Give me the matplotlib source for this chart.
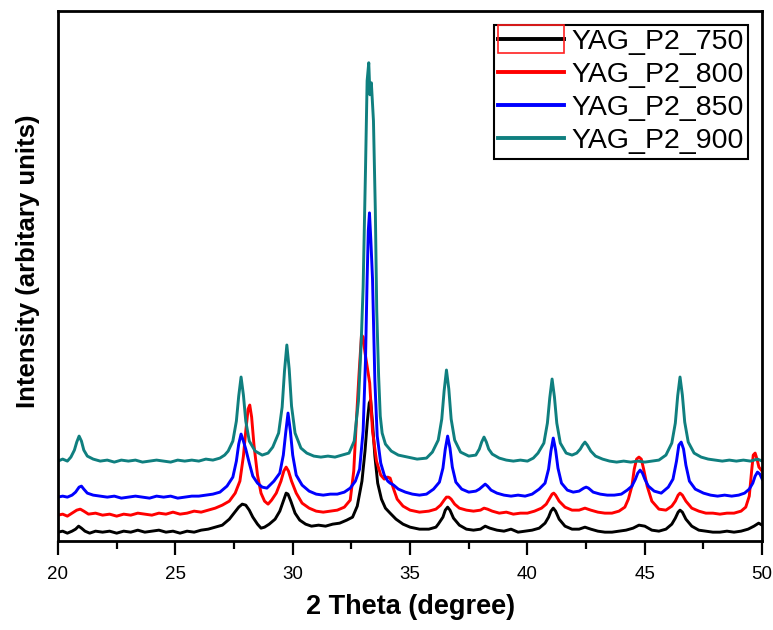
import matplotlib
matplotlib.use('Agg')
import matplotlib.pyplot as plt
from matplotlib.patches import Rectangle
from matplotlib.ticker import MultipleLocator

# XRD patterns: (2 theta in degree, intensity in arbitrary units)
p2_750 = [(20.0, 9), (20.2, 10), (20.4, 8), (20.6, 10), (20.75, 12), (20.88, 15), (21.0, 13), (21.15, 10),
          (21.35, 8), (21.6, 10), (21.9, 9), (22.2, 10), (22.5, 8), (22.8, 10), (23.1, 9), (23.4, 11),
          (23.7, 9), (24.0, 10), (24.3, 11), (24.6, 9), (24.9, 10), (25.2, 8), (25.5, 10), (25.8, 9),
          (26.1, 11), (26.4, 12), (26.7, 14), (27.0, 16), (27.3, 22), (27.5, 28), (27.7, 34), (27.85, 37),
          (28.0, 36), (28.15, 31), (28.3, 24), (28.5, 17), (28.65, 13), (28.8, 14), (29.0, 17), (29.25, 22),
          (29.45, 30), (29.6, 40), (29.72, 48), (29.8, 47), (29.92, 40), (30.1, 28), (30.3, 21), (30.55, 17),
          (30.8, 15), (31.1, 16), (31.4, 15), (31.7, 17), (32.0, 18), (32.3, 21), (32.55, 24), (32.75, 35),
          (32.95, 60), (33.08, 90), (33.18, 120), (33.26, 138), (33.32, 141), (33.4, 118), (33.5, 85),
          (33.62, 58), (33.78, 42), (33.95, 33), (34.15, 28), (34.4, 22), (34.7, 17), (35.0, 14), (35.4, 12),
          (35.8, 12), (36.1, 14), (36.2, 17), (36.4, 24), (36.5, 31), (36.6, 34), (36.7, 31), (36.85, 23),
          (37.1, 16), (37.4, 12), (37.7, 11), (38.0, 12), (38.2, 15), (38.4, 13), (38.7, 11), (39.0, 10),
          (39.3, 12), (39.6, 9), (39.9, 10), (40.2, 11), (40.5, 13), (40.75, 18), (40.9, 24), (41.0, 30),
          (41.1, 33), (41.2, 30), (41.35, 22), (41.6, 15), (41.9, 12), (42.2, 12), (42.45, 14), (42.7, 12),
          (43.0, 10), (43.3, 9), (43.6, 9), (43.9, 10), (44.2, 11), (44.5, 13), (44.75, 16), (45.0, 15),
          (45.3, 11), (45.6, 10), (45.9, 12), (46.15, 17), (46.3, 23), (46.42, 29), (46.5, 31), (46.6, 29),
          (46.75, 22), (47.0, 15), (47.3, 11), (47.6, 10), (47.9, 9), (48.2, 9), (48.5, 10), (48.8, 9),
          (49.1, 10), (49.4, 12), (49.65, 15), (49.85, 18), (50.0, 16)]

p2_800 = [(20.0, 26), (20.2, 27), (20.4, 25), (20.6, 28), (20.8, 31), (20.95, 32), (21.1, 30), (21.3, 27),
          (21.6, 28), (21.9, 26), (22.2, 27), (22.5, 25), (22.8, 27), (23.1, 26), (23.4, 28), (23.7, 27),
          (24.0, 26), (24.3, 28), (24.6, 27), (24.9, 29), (25.2, 27), (25.5, 28), (25.8, 30), (26.1, 29),
          (26.4, 31), (26.7, 33), (27.0, 36), (27.3, 40), (27.55, 48), (27.75, 60), (27.9, 85), (28.0, 110),
          (28.1, 132), (28.17, 136), (28.25, 124), (28.35, 96), (28.5, 66), (28.65, 48), (28.8, 40),
          (28.95, 37), (29.1, 41), (29.3, 48), (29.5, 60), (29.62, 70), (29.72, 74), (29.82, 70), (29.95, 60),
          (30.15, 48), (30.4, 38), (30.7, 33), (31.0, 30), (31.3, 29), (31.6, 30), (31.9, 31), (32.2, 34),
          (32.45, 41), (32.6, 70), (32.7, 115), (32.82, 165), (32.93, 206), (33.0, 204), (33.07, 190),
          (33.17, 175), (33.28, 158), (33.4, 110), (33.57, 80), (33.75, 66), (33.9, 62), (34.05, 64),
          (34.15, 63), (34.3, 52), (34.45, 42), (34.7, 35), (35.0, 31), (35.4, 29), (35.8, 30), (36.1, 32),
          (36.3, 36), (36.45, 41), (36.55, 44), (36.65, 44), (36.75, 42), (36.9, 37), (37.1, 33), (37.4, 31),
          (37.7, 30), (38.0, 31), (38.15, 33), (38.3, 32), (38.5, 30), (38.8, 28), (39.1, 29), (39.4, 27),
          (39.7, 28), (40.0, 28), (40.3, 30), (40.6, 33), (40.8, 37), (40.95, 43), (41.05, 47), (41.12, 48),
          (41.2, 46), (41.35, 40), (41.6, 34), (41.9, 31), (42.2, 31), (42.45, 33), (42.7, 31), (43.0, 29),
          (43.3, 28), (43.6, 28), (43.9, 30), (44.15, 34), (44.3, 42), (44.45, 55), (44.55, 72), (44.65, 82),
          (44.75, 84), (44.85, 82), (44.95, 72), (45.1, 55), (45.3, 40), (45.6, 32), (45.9, 31), (46.15, 35),
          (46.3, 40), (46.42, 46), (46.5, 48), (46.6, 46), (46.75, 40), (47.0, 33), (47.3, 30), (47.6, 28),
          (47.9, 28), (48.2, 27), (48.5, 28), (48.8, 28), (49.1, 30), (49.3, 34), (49.45, 45), (49.55, 70),
          (49.62, 86), (49.7, 88), (49.78, 82), (49.86, 74), (50.0, 70)]

p2_850 = [(20.0, 44), (20.2, 45), (20.4, 44), (20.6, 46), (20.75, 49), (20.9, 54), (21.0, 55), (21.1, 52),
          (21.25, 48), (21.5, 46), (21.8, 45), (22.1, 44), (22.4, 45), (22.7, 43), (23.0, 44), (23.3, 45),
          (23.6, 44), (23.9, 43), (24.2, 45), (24.5, 44), (24.8, 45), (25.1, 43), (25.4, 44), (25.7, 45),
          (26.0, 45), (26.3, 46), (26.6, 47), (26.9, 49), (27.2, 55), (27.45, 64), (27.6, 80), (27.7, 97),
          (27.8, 107), (27.9, 100), (28.0, 92), (28.15, 78), (28.3, 65), (28.5, 58), (28.7, 54), (28.9, 53),
          (29.2, 60), (29.45, 68), (29.6, 86), (29.7, 108), (29.8, 128), (29.9, 110), (30.0, 86), (30.15, 66),
          (30.4, 56), (30.7, 50), (31.0, 47), (31.3, 46), (31.6, 47), (31.9, 47), (32.2, 49), (32.45, 53),
          (32.67, 60), (32.85, 72), (33.0, 110), (33.1, 180), (33.17, 262), (33.22, 310), (33.27, 328),
          (33.33, 300), (33.4, 262), (33.5, 160), (33.6, 105), (33.75, 78), (33.9, 66), (34.05, 60),
          (34.15, 58), (34.3, 56), (34.5, 52), (34.8, 49), (35.1, 47), (35.4, 46), (35.7, 47), (36.0, 52),
          (36.25, 59), (36.4, 73), (36.5, 92), (36.6, 105), (36.7, 93), (36.8, 74), (36.95, 59), (37.2, 52),
          (37.5, 49), (37.8, 50), (37.95, 52), (38.1, 55), (38.2, 57), (38.3, 55), (38.45, 51), (38.7, 48),
          (39.0, 46), (39.3, 45), (39.6, 46), (39.9, 45), (40.2, 47), (40.5, 52), (40.75, 58), (40.9, 72),
          (41.0, 90), (41.1, 103), (41.2, 91), (41.3, 73), (41.45, 58), (41.7, 51), (41.95, 49), (42.2, 50),
          (42.4, 53), (42.5, 54), (42.6, 53), (42.8, 49), (43.1, 47), (43.4, 46), (43.7, 46), (44.0, 47),
          (44.25, 51), (44.45, 55), (44.6, 62), (44.7, 68), (44.8, 71), (44.9, 68), (45.0, 62), (45.15, 55),
          (45.4, 50), (45.7, 48), (46.0, 54), (46.2, 62), (46.35, 80), (46.45, 96), (46.55, 99), (46.65, 92),
          (46.75, 76), (46.9, 60), (47.15, 52), (47.5, 48), (47.8, 46), (48.1, 45), (48.4, 46), (48.7, 45),
          (49.0, 46), (49.25, 48), (49.45, 52), (49.6, 58), (49.7, 65), (49.8, 69), (49.9, 67), (50.0, 62)]

p2_900 = [(20.0, 80), (20.2, 82), (20.4, 80), (20.55, 84), (20.7, 91), (20.8, 99), (20.9, 105), (21.0, 100),
          (21.1, 91), (21.25, 85), (21.5, 82), (21.8, 80), (22.1, 81), (22.4, 79), (22.7, 81), (23.0, 80),
          (23.3, 81), (23.6, 79), (23.9, 80), (24.2, 81), (24.5, 80), (24.8, 79), (25.1, 81), (25.4, 80),
          (25.7, 81), (26.0, 80), (26.3, 82), (26.6, 81), (26.9, 83), (27.1, 86), (27.25, 90), (27.45, 100),
          (27.6, 120), (27.7, 145), (27.8, 164), (27.9, 146), (28.0, 120), (28.15, 100), (28.4, 90),
          (28.7, 86), (28.95, 88), (29.15, 94), (29.4, 108), (29.55, 134), (29.65, 170), (29.75, 196),
          (29.85, 172), (29.95, 135), (30.1, 108), (30.35, 93), (30.6, 88), (30.9, 85), (31.2, 84), (31.5, 85),
          (31.8, 84), (32.1, 86), (32.4, 88), (32.62, 100), (32.8, 140), (32.92, 200), (33.0, 254),
          (33.1, 370), (33.17, 460), (33.24, 478), (33.29, 446), (33.35, 458), (33.44, 420), (33.52, 330),
          (33.58, 230), (33.66, 165), (33.73, 125), (33.81, 108), (33.95, 97), (34.2, 90), (34.5, 86),
          (34.9, 84), (35.3, 82), (35.7, 83), (35.95, 89), (36.2, 101), (36.35, 122), (36.45, 150),
          (36.55, 171), (36.65, 152), (36.75, 122), (36.9, 101), (37.15, 89), (37.5, 85), (37.8, 86),
          (37.95, 92), (38.05, 99), (38.15, 104), (38.25, 99), (38.35, 92), (38.5, 87), (38.8, 83), (39.1, 81),
          (39.4, 80), (39.7, 81), (40.0, 80), (40.25, 83), (40.45, 88), (40.7, 98), (40.85, 118), (40.95, 143),
          (41.05, 162), (41.15, 144), (41.25, 118), (41.4, 98), (41.65, 88), (41.9, 86), (42.1, 88),
          (42.25, 92), (42.35, 96), (42.45, 99), (42.55, 96), (42.7, 90), (42.9, 85), (43.2, 82), (43.5, 80),
          (43.8, 79), (44.1, 80), (44.4, 79), (44.7, 80), (45.0, 79), (45.3, 80), (45.6, 81), (45.9, 86),
          (46.15, 98), (46.3, 118), (46.4, 145), (46.5, 164), (46.6, 146), (46.7, 119), (46.85, 99),
          (47.1, 88), (47.4, 84), (47.7, 82), (48.0, 81), (48.3, 80), (48.6, 81), (48.9, 80), (49.2, 81),
          (49.5, 80), (49.8, 82), (50.0, 80)]

series = [p2_750, p2_800, p2_850, p2_900]
labels = ['YAG_P2_750', 'YAG_P2_800', 'YAG_P2_850', 'YAG_P2_900']
colors = ['black', '#ff0000', '#0000ff', '#0f7f7f']

plt.rcParams['font.family'] = ['Liberation Sans', 'DejaVu Sans']

fig = plt.figure(figsize=(7.73, 6.30), dpi=100)
ax = fig.add_axes([0.075, 0.141, 0.911, 0.842])

for data, lab, col in zip(series, labels, colors):
    x, y = zip(*data)
    ax.plot(x, y, color=col, lw=2.1, label=lab)

ax.set_xlim(20, 50)
ax.set_ylim(0, 530)
ax.xaxis.set_major_locator(MultipleLocator(5))
ax.xaxis.set_minor_locator(MultipleLocator(2.5))
ax.set_yticks([])
ax.tick_params(axis='x', which='major', direction='out', length=10, width=1.6, labelsize=13.5, pad=8)
ax.tick_params(axis='x', which='minor', direction='out', length=5.5, width=1.6)
for sp in ax.spines.values():
    sp.set_linewidth(2.0)

ax.set_xlabel('2 Theta (degree)', fontsize=19.5, fontweight='bold', labelpad=8)
ax.set_ylabel('Intensity (arbitary units)', fontsize=18.5, fontweight='bold')
ax.yaxis.set_label_coords(-0.026, 0.527)

leg = ax.legend(loc='upper right', fontsize=20.5, frameon=True, fancybox=False, framealpha=1,
                edgecolor='black', handlelength=2.3, handletextpad=0.28, borderpad=0.15,
                labelspacing=0.25, borderaxespad=0.49)
leg.get_frame().set_linewidth(1.5)
for h in leg.legend_handles:
    h.set_linewidth(2.8)

# red selection box drawn round the first legend key in the original
fig.canvas.draw()
bb = leg.legend_handles[0].get_window_extent(fig.canvas.get_renderer())
inv = fig.transFigure.inverted()
x0, y0 = inv.transform((bb.x0, bb.y0 - 14))
x1, y1 = inv.transform((bb.x1, bb.y1 + 14))
fig.add_artist(Rectangle((x0, y0), x1 - x0, y1 - y0, transform=fig.transFigure,
                         fill=False, edgecolor='#ff2020', lw=1.2))

fig.savefig('out.png', dpi=100)
